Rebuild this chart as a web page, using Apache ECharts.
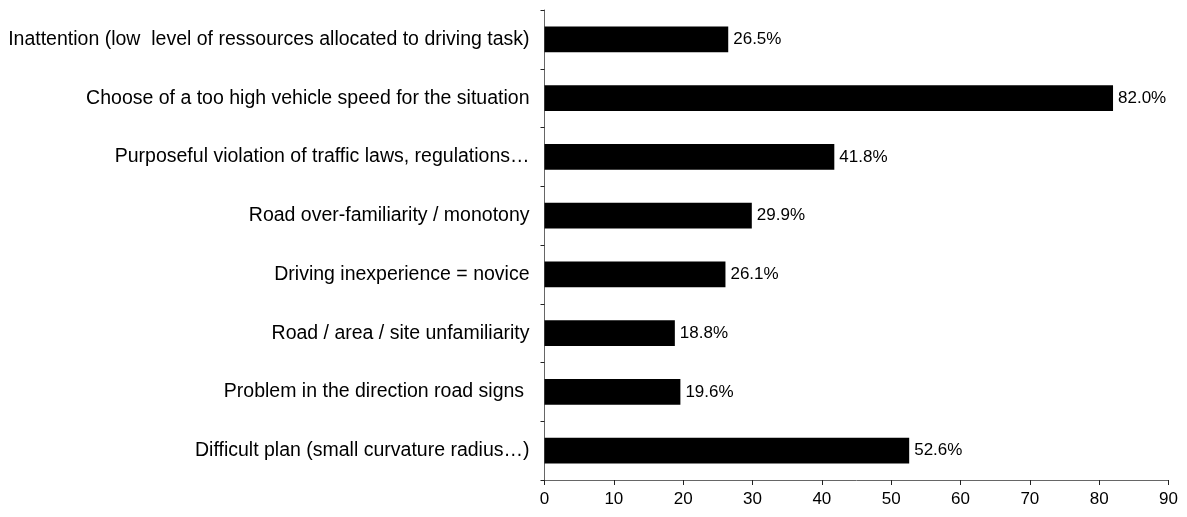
<!DOCTYPE html>
<html>
<head>
<meta charset="utf-8">
<script src="https://cdn.jsdelivr.net/npm/echarts@6/dist/echarts.min.js"></script>
<style>
  html, body { margin: 0; padding: 0; background: #fff; }
  #chart { width: 1187px; height: 517px; }
</style>
</head>
<body>
<div id="chart"></div>
<script>
// Contributing factors, listed top to bottom
const categories = [
  'Inattention (low  level of ressources allocated to driving task)',
  'Choose of a too high vehicle speed for the situation',
  'Purposeful violation of traffic laws, regulations\u2026',
  'Road over-familiarity / monotony',
  'Driving inexperience = novice',
  'Road / area / site unfamiliarity',
  'Problem in the direction road signs ',
  'Difficult plan (small curvature radius\u2026)'
];
// Share of cases (%)
const shares = [26.5, 82.0, 41.8, 29.9, 26.1, 18.8, 19.6, 52.6];
// Value axis ticks
const axisMin = 0;
const axisMax = 90;
const axisStep = 10;

const FONT = '"Liberation Sans", Arial, sans-serif';

const chart = echarts.init(document.getElementById('chart'), null, { renderer: 'canvas' });
chart.setOption({
  animation: false,
  backgroundColor: '#ffffff',
  grid: { left: 544.5, right: 18.5, top: 10, bottom: 37, containLabel: false },
  xAxis: {
    type: 'value',
    min: axisMin,
    max: axisMax,
    interval: axisStep,
    axisLine: { show: true, lineStyle: { color: '#666', width: 1 } },
    axisTick: { show: true, inside: false, length: 5, lineStyle: { color: '#222', width: 1 } },
    axisLabel: { color: '#000', fontFamily: FONT, fontSize: 17, margin: 11 },
    splitLine: { show: false }
  },
  yAxis: {
    type: 'category',
    data: categories,
    inverse: true,
    axisLine: { show: true, lineStyle: { color: '#666', width: 1 } },
    axisTick: { show: true, inside: false, length: 4, alignWithLabel: false, lineStyle: { color: '#222', width: 1 } },
    axisLabel: { color: '#000', fontFamily: FONT, fontSize: 19.5, margin: 15 },
    splitLine: { show: false }
  },
  series: [{
    type: 'bar',
    data: shares,
    barWidth: '44%',
    itemStyle: { color: '#000000' },
    label: {
      show: true,
      position: 'right',
      distance: 5,
      color: '#000',
      fontFamily: FONT,
      fontSize: 17,
      formatter: p => p.value.toFixed(1) + '%'
    }
  }]
});
</script>
</body>
</html>
